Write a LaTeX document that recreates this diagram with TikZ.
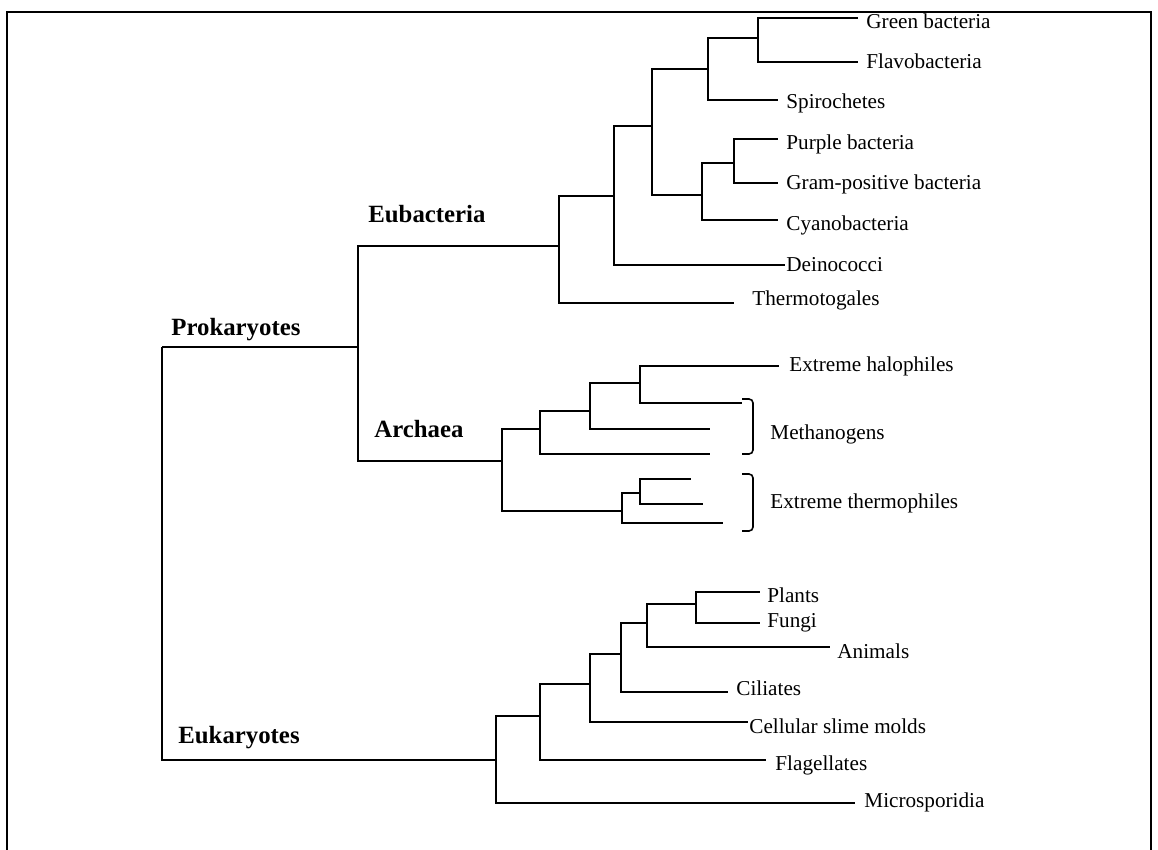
\documentclass[tikz,border=0pt]{standalone}
\usepackage{fontspec}
\setmainfont{Liberation Serif}
\begin{document}
\begin{tikzpicture}[x=0.5pt,y=-0.5pt,
        branch/.style={line width=0.8pt},
        leaf/.style={anchor=base west,inner sep=0pt,font=\fontsize{10.6}{12}\selectfont},
        clade/.style={anchor=base west,inner sep=0pt,font=\fontsize{12.4}{14}\selectfont\bfseries}]
    \useasboundingbox (0,0) rectangle (1158,850);
    \draw[line width=0.9pt] (7,850) |- (1151,12) -- (1151,850);
    \foreach \n/\x/\y in {root/162/347, pro/358/347, eub/559/246, arc/502/461, euk/496/760,
            e1/614/196, e2/652/126, e3/708/69, e4/702/195, e5/758/38, e6/734/163,
            a1/540/429, a2/622/511, a3/590/411, a4/640/383, a5/640/493,
            k1/540/716, k2/590/684, k3/621/654, k4/647/623, k5/696/604}
        \coordinate (\n) at (\x,\y);
    \foreach \n/\x/\y in {green/858/18, flavo/858/62, spiro/778/100, purple/778/139, gram/778/183,
            cyano/778/220, deino/785/265, thermo/734/303,
            halo/779/366, meth1/742/403, meth2/710/429, meth3/710/454,
            therm1/691/479, therm2/703/504, therm3/723/523,
            plants/760/592, fungi/760/623, animals/830/647, ciliates/728/692,
            slime/748/722, flag/766/760, micro/855/803}
        \coordinate (\n) at (\x,\y);
    \foreach \p/\c in {root/pro, root/euk, pro/eub, pro/arc,
            eub/e1, eub/thermo, e1/e2, e1/deino, e2/e3, e2/e4, e3/e5, e3/spiro,
            e5/green, e5/flavo, e4/e6, e4/cyano, e6/purple, e6/gram,
            arc/a1, arc/a2, a1/a3, a1/meth3, a3/a4, a3/meth2, a4/halo, a4/meth1,
            a2/a5, a2/therm3, a5/therm1, a5/therm2,
            euk/k1, euk/micro, k1/k2, k1/flag, k2/k3, k2/slime, k3/k4, k3/ciliates,
            k4/k5, k4/animals, k5/plants, k5/fungi}
        \draw[branch] (\p) |- (\c);
    \draw[branch,rounded corners=2] (meth1) ++(0,-4) -| (753,454) -- (meth3 -| meth1);
    \draw[branch,rounded corners=2] (742,474) -| (753,531) -- (742,531);
    \foreach \n/\x/\y/\s in {green/866/29/Green bacteria, flavo/866/69/Flavobacteria,
            spiro/786/109/Spirochetes, purple/786/150/Purple bacteria,
            gram/786/190/Gram-positive bacteria, cyano/786/231/Cyanobacteria,
            deino/786/272/Deinococci, thermo/752/306/Thermotogales,
            halo/789/372/Extreme halophiles, methano/770/440/Methanogens,
            xtherm/770/509/Extreme thermophiles, plants/767/603/Plants,
            fungi/767/627/Fungi, animals/837/658/Animals, ciliates/736/695/Ciliates,
            slime/749/733/Cellular slime molds, flag/775/770/Flagellates,
            micro/864/807/Microsporidia}
        \node[leaf] (\n-t) at (\x,\y) {\s};
    \node[clade] (prok-t) at (171,336) {Prokaryotes};
    \node[clade] (eub-t) at (368,223) {Eubacteria};
    \node[clade] (arc-t) at (374,438) {Archaea};
    \node[clade] (euk-t) at (178,743) {Eukaryotes};
\end{tikzpicture}
\end{document}
